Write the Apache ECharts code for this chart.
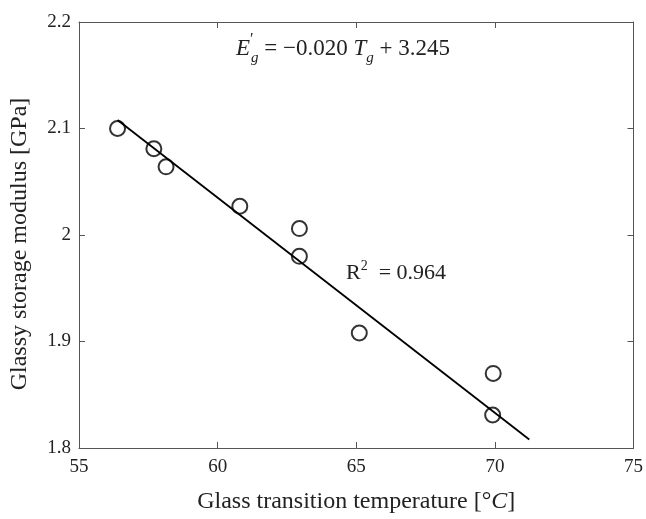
<!DOCTYPE html>
<html>
<head>
<meta charset="utf-8">
<script src="https://cdn.jsdelivr.net/npm/echarts@6/dist/echarts.min.js"></script>
<style>
  html, body { margin: 0; padding: 0; background: #fff; }
  #chart { width: 646px; height: 519px; }
</style>
</head>
<body>
<div id="chart"></div>
<script>
// measured points: Tg [C], E'g [GPa]
const tgValues = [56.39, 57.70, 58.14, 60.80, 62.95, 62.95, 65.11, 69.94, 69.92];
const modulusValues = [2.100, 2.081, 2.064, 2.027, 2.006, 1.980, 1.908, 1.870, 1.831];
// fitted line ends
const fitX = [56.39, 71.24];
const fitY = [2.108, 1.808];
const xTicks = [55, 60, 65, 70, 75];
const yTicks = [1.8, 1.9, 2.0, 2.1, 2.2];

const serif = "Liberation Serif";
const frameColor = "#555555";

const chart = echarts.init(document.getElementById("chart"));

const axisCommon = {
  axisLine: { show: true, onZero: false, lineStyle: { color: frameColor, width: 1 } },
  axisTick: { show: true, inside: true, length: 6, lineStyle: { color: frameColor } },
  splitLine: { show: false },
};

const option = {
  backgroundColor: "#ffffff",
  animation: false,
  grid: { left: 76, right: 10, top: 22, bottom: 57, containLabel: false },
  xAxis: [
    {
      type: "value",
      min: xTicks[0],
      max: xTicks[xTicks.length - 1],
      interval: 5,
      position: "bottom",
      ...axisCommon,
      axisLabel: { color: "#222", fontFamily: serif, fontSize: 19, margin: 10 },
      name: "{a|Glass transition temperature [°}{i|C}{a|]}",
      nameLocation: "middle",
      nameGap: 42,
      nameTextStyle: {
        rich: {
          a: { fontFamily: serif, fontSize: 24, color: "#222" },
          i: { fontFamily: serif, fontSize: 24, fontStyle: "italic", color: "#222" },
        },
      },
    },
    {
      type: "value",
      min: xTicks[0],
      max: xTicks[xTicks.length - 1],
      interval: 5,
      position: "top",
      ...axisCommon,
      axisLabel: { show: false },
    },
  ],
  yAxis: [
    {
      type: "value",
      min: yTicks[0],
      max: yTicks[yTicks.length - 1],
      interval: 0.1,
      position: "left",
      ...axisCommon,
      axisLabel: { color: "#222", fontFamily: serif, fontSize: 19, margin: 8 },
      name: "Glassy storage modulus [GPa]",
      nameLocation: "middle",
      nameGap: 47,
      nameTextStyle: { fontFamily: serif, fontSize: 24, color: "#222", padding: [0, 18, 0, 0] },
    },
    {
      type: "value",
      min: yTicks[0],
      max: yTicks[yTicks.length - 1],
      interval: 0.1,
      position: "right",
      ...axisCommon,
      axisLabel: { show: false },
    },
  ],
  series: [
    {
      type: "line",
      data: fitX.map((x, i) => [x, fitY[i]]),
      showSymbol: false,
      symbol: "none",
      lineStyle: { color: "#000", width: 1.8 },
      z: 2,
    },
    {
      type: "scatter",
      data: tgValues.map((x, i) => [x, modulusValues[i]]),
      symbol: "circle",
      symbolSize: 15,
      itemStyle: { color: "rgba(255,255,255,0)", borderColor: "#000", borderWidth: 2 },
      z: 3,
    },
  ],
  graphic: [
    {
      type: "text",
      left: 236,
      top: 32,
      style: {
        text: "{v|E}{p|′}{s|g}{n| = −0.020 }{v|T}{s|g}{n| + 3.245}",
        rich: {
          v: { fontFamily: serif, fontStyle: "italic", fontSize: 23, lineHeight: 34, verticalAlign: "middle", fill: "#222" },
          n: { fontFamily: serif, fontSize: 23, lineHeight: 34, verticalAlign: "middle", fill: "#222" },
          p: { fontFamily: serif, fontSize: 16, width: 1, verticalAlign: "top", fill: "#222" },
          s: { fontFamily: serif, fontStyle: "italic", fontSize: 15, lineHeight: 34, verticalAlign: "bottom", fill: "#222" },
        },
      },
    },
    {
      type: "text",
      left: 346,
      top: 259,
      style: {
        text: "{n|R}{p|2}{n|  = 0.964}",
        rich: {
          n: { fontFamily: serif, fontSize: 22, lineHeight: 28, verticalAlign: "middle", fill: "#222" },
          p: { fontFamily: serif, fontSize: 14, lineHeight: 28, verticalAlign: "top", fill: "#222" },
        },
      },
    },
  ],
};

chart.setOption(option);
</script>
</body>
</html>
